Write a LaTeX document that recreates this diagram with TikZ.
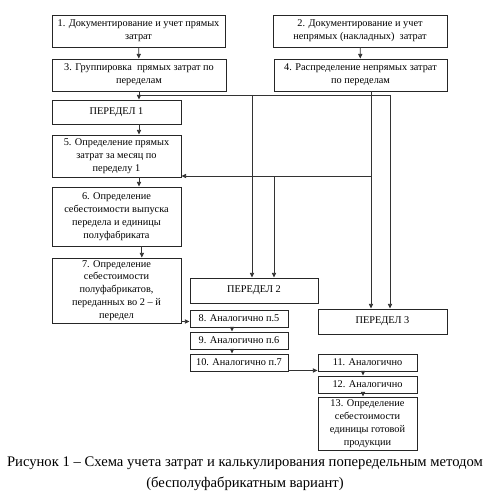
\documentclass[tikz,border=0pt]{standalone}
\usepackage{fontspec}
\setmainfont{Liberation Serif}
\usepackage{tikz}
\usetikzlibrary{arrows.meta}

\begin{document}
\begin{tikzpicture}[x=0.3mm, y=-0.3mm, >={Triangle[length=4pt, width=3.6pt]},
  box/.style={draw=black!85, line width=0.8pt, align=center, inner sep=0.5pt,
              font=\fontsize{8.8}{11}\selectfont},
  conn/.style={draw=black!80, line width=0.7pt}]

\useasboundingbox (0,0) rectangle (490,499);

%% =============== Left column: peredel 1 ===============

  % --- Top boxes ---
  \node[box, minimum width=51.9mm, minimum height=9.6mm] (doc1) at (138.5, 31)
    {1. Документирование и учет прямых\\затрат};
  \node[box, minimum width=52.2mm, minimum height=9.6mm] (grp3) at (139, 75)
    {3. Группировка\ \ прямых затрат по\\переделам};

  % --- Peredel 1 chain ---
  \node[box, minimum width=38.7mm, minimum height=7.2mm] (per1) at (116.5, 112)
    {ПЕРЕДЕЛ 1};
  \node[box, minimum width=38.7mm, minimum height=12.6mm] (det5) at (116.5, 156)
    {5. Определение прямых\\затрат за месяц по\\переделу 1};
  \node[box, minimum width=38.7mm, minimum height=17.7mm] (det6) at (116.5, 216.5)
    {6. Определение\\себестоимости выпуска\\передела и единицы\\полуфабриката};
  \node[box, minimum width=38.7mm, minimum height=19.5mm] (det7) at (116.5, 290.5)
    {7. Определение\\себестоимости\\полуфабрикатов,\\переданных во 2 – й\\передел};

%% =============== Right column: indirect costs ===============

  \node[box, minimum width=52.2mm, minimum height=9.6mm] (doc2) at (360, 31)
    {2. Документирование и учет\\непрямых (накладных)\ \ затрат};
  \node[box, minimum width=51.9mm, minimum height=9.6mm] (dist4) at (360.5, 75)
    {4. Распределение непрямых затрат\\по переделам};

%% =============== Peredel 2 and 3 ===============

  \node[box, minimum width=38.4mm, minimum height=7.5mm] (per2) at (254, 290.5)
    {ПЕРЕДЕЛ 2};
  \node[box, minimum width=38.7mm, minimum height=7.5mm] (per3) at (382.5, 321.5)
    {ПЕРЕДЕЛ 3};

  % --- Steps of peredel 2 ---
  \node[box, minimum width=29.4mm, minimum height=5.1mm] (sim8) at (239, 318.5)
    {8. Аналогично п.5};
  \node[box, minimum width=29.4mm, minimum height=5.1mm] (sim9) at (239, 340.5)
    {9. Аналогично п.6};
  \node[box, minimum width=29.4mm, minimum height=5.1mm] (sim10) at (239, 362.5)
    {10. Аналогично п.7};

  % --- Steps of peredel 3 ---
  \node[box, minimum width=29.7mm, minimum height=5.1mm] (sim11) at (367.5, 362.5)
    {11. Аналогично};
  \node[box, minimum width=29.7mm, minimum height=5.1mm] (sim12) at (367.5, 384.5)
    {12. Аналогично};
  \node[box, minimum width=29.7mm, minimum height=15.9mm] (cost13) at (367.5, 423.5)
    {13. Определение\\себестоимости\\единицы готовой\\продукции};

%% =============== Connectors ===============

  % --- Junction points ---
  \coordinate (busA)  at (139, 95);
  \coordinate (tapA)  at (252, 95);
  \coordinate (endA)  at (390, 95);
  \coordinate (busB)  at (371, 176);
  \coordinate (tapB)  at (274, 176);
  \coordinate (hop78) at (181, 321.5);

  % --- Top boxes down ---
  \draw[conn, ->] (doc1) -- (grp3);
  \draw[conn, ->] (doc2) -- (dist4);

  % --- Direct costs bus ---
  \draw[conn, ->] (grp3.south) -- (per1.north -| grp3.south);
  \draw[conn] (busA) -- (endA);
  \draw[conn, ->] (tapA) -- (tapA |- per2.north);
  \draw[conn, ->] (endA) -- (endA |- per3.north);

  % --- Indirect costs bus ---
  \draw[conn, ->] (dist4.south -| busB) -- (busB |- per3.north);
  \draw[conn, ->] (busB) -- (det5.east |- busB);
  \draw[conn, ->] (tapB) -- (tapB |- per2.north);

  % --- Peredel 1 chain ---
  \draw[conn, ->] (per1.south -| busA) -- (det5.north -| busA);
  \draw[conn, ->] (det5.south -| busA) -- (det6.north -| busA);
  \draw[conn, ->] ([xshift=7.6mm]det6.south) -- ([xshift=7.6mm]det7.north);
  \draw[conn, ->] (hop78) -- (hop78 -| sim8.west);

  % --- Peredel 2 chain ---
  \draw[conn, ->] ([xshift=-2.1mm]sim8.south) -- ([xshift=-2.1mm]sim9.north);
  \draw[conn, ->] ([xshift=-2.1mm]sim9.south) -- ([xshift=-2.1mm]sim10.north);
  \draw[conn, ->] ([yshift=0.3mm]sim10.south east) -- ([yshift=0.3mm]sim11.south west);

  % --- Peredel 3 chain ---
  \draw[conn, ->] ([xshift=-1.35mm]sim11.south) -- ([xshift=-1.35mm]sim12.north);
  \draw[conn, ->] ([xshift=-1.35mm]sim12.south) -- ([xshift=-1.35mm]cost13.north);

  % --- Caption ---
  \node[align=center, font=\fontsize{12.5}{18}\selectfont] (caption) at (245, 473.5)
    {Рисунок 1 – Схема учета затрат и калькулирования попередельным методом\\
     (бесполуфабрикатным вариант)};

\end{tikzpicture}
\end{document}
